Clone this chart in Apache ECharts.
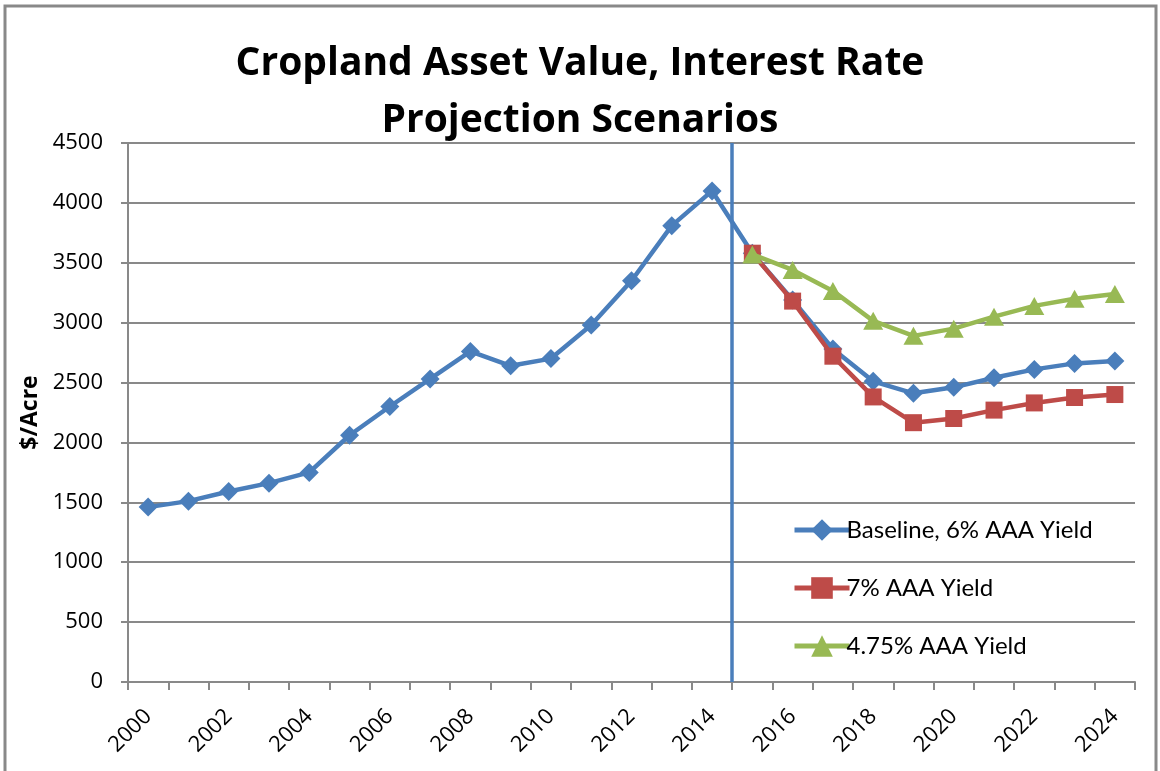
<!DOCTYPE html>
<html><head><meta charset="utf-8">
<script src="https://cdn.jsdelivr.net/npm/echarts@6/dist/echarts.min.js"></script>
<style>html,body{margin:0;padding:0;background:#fff}#c{width:1160px;height:771px}</style>
</head><body><div id="c"></div>
<script>
const years = ['2000','2001','2002','2003','2004','2005','2006','2007','2008','2009','2010','2011','2012','2013','2014','2015','2016','2017','2018','2019','2020','2021','2022','2023','2024'];
const baseline = [1460,1510,1590,1660,1750,2060,2300,2530,2760,2640,2700,2980,3350,3810,4100,3580,3190,2780,2510,2410,2460,2540,2610,2660,2680];
const yield7 = [null,null,null,null,null,null,null,null,null,null,null,null,null,null,null,3580,3180,2720,2380,2165,2200,2270,2330,2375,2400];
const yield475 = [null,null,null,null,null,null,null,null,null,null,null,null,null,null,null,3570,3440,3265,3015,2890,2950,3050,3140,3200,3240];
const dividerPosition = 15; // boundary between 2014 and 2015, in category-slot units
const seriesNames = ['Baseline, 6% AAA Yield','7% AAA Yield','4.75% AAA Yield'];
const yTicks = {min:0, max:4500, interval:500};

const chart = echarts.init(document.getElementById('c'));
chart.setOption({
  animation:false,
  backgroundColor:'#fff',
  title:{text:'Cropland Asset Value, Interest Rate\nProjection Scenarios', left:'center', top:30,
    textStyle:{fontFamily:'Open Sans', fontWeight:'bold', fontSize:39, lineHeight:57, color:'#000'}},
  graphic:[{type:'rect', shape:{x:5,y:6,width:1151,height:820}, style:{fill:'none', stroke:'#898989', lineWidth:3}, silent:true}],
  grid:{left:128, right:25, top:143, bottom:89, containLabel:false},
  legend:{orient:'vertical', left:787, top:513, itemWidth:55, itemHeight:27, itemGap:34,
    data:seriesNames, lineStyle:{width:5},
    textStyle:{fontFamily:'Lato', fontSize:24, color:'#000', padding:[0,0,0,-8]}},
  xAxis:[{type:'category', data:years, boundaryGap:true,
    axisLine:{lineStyle:{color:'#898989', width:2}},
    axisTick:{show:true, interval:0, length:8, lineStyle:{color:'#898989', width:2}},
    axisLabel:{interval:1, rotate:45, margin:31, fontFamily:'Open Sans', fontSize:22, color:'#000'},
    splitLine:{show:false}},
   {type:'value', min:0, max:25, show:false}],
  yAxis:{type:'value', min:yTicks.min, max:yTicks.max, interval:yTicks.interval,
    name:'$/Acre', nameLocation:'middle', nameGap:82, nameRotate:90,
    nameTextStyle:{fontFamily:'Open Sans', fontWeight:'bold', fontSize:23, color:'#000'},
    axisLine:{show:true, lineStyle:{color:'#898989', width:2}},
    axisTick:{show:true, length:7, lineStyle:{color:'#898989', width:2}},
    axisLabel:{fontFamily:'Open Sans', fontSize:22, color:'#000', margin:25, formatter:(v)=>String(v)},
    splitLine:{lineStyle:{color:'#898989', width:2}}},
  series:[
    {name:'divider', type:'line', xAxisIndex:1, data:[], silent:true,
      markLine:{symbol:'none', silent:true, label:{show:false},
        lineStyle:{color:'#4a7ebb', width:3.5, type:'solid'}, data:[{xAxis:dividerPosition}]}},
    {name:seriesNames[0], type:'line', data:baseline, symbol:'diamond', symbolSize:19,
      lineStyle:{color:'#4a7ebb', width:4.5}, itemStyle:{color:'#4a7ebb'}, z:3},
    {name:seriesNames[1], type:'line', data:yield7, symbol:'rect', symbolSize:17,
      lineStyle:{color:'#be4b48', width:4.5}, itemStyle:{color:'#be4b48'}, z:4},
    {name:seriesNames[2], type:'line', data:yield475, symbol:'triangle', symbolSize:[20,18],
      lineStyle:{color:'#98b954', width:4.5}, itemStyle:{color:'#98b954'}, z:5}
  ]
});
</script></body></html>
